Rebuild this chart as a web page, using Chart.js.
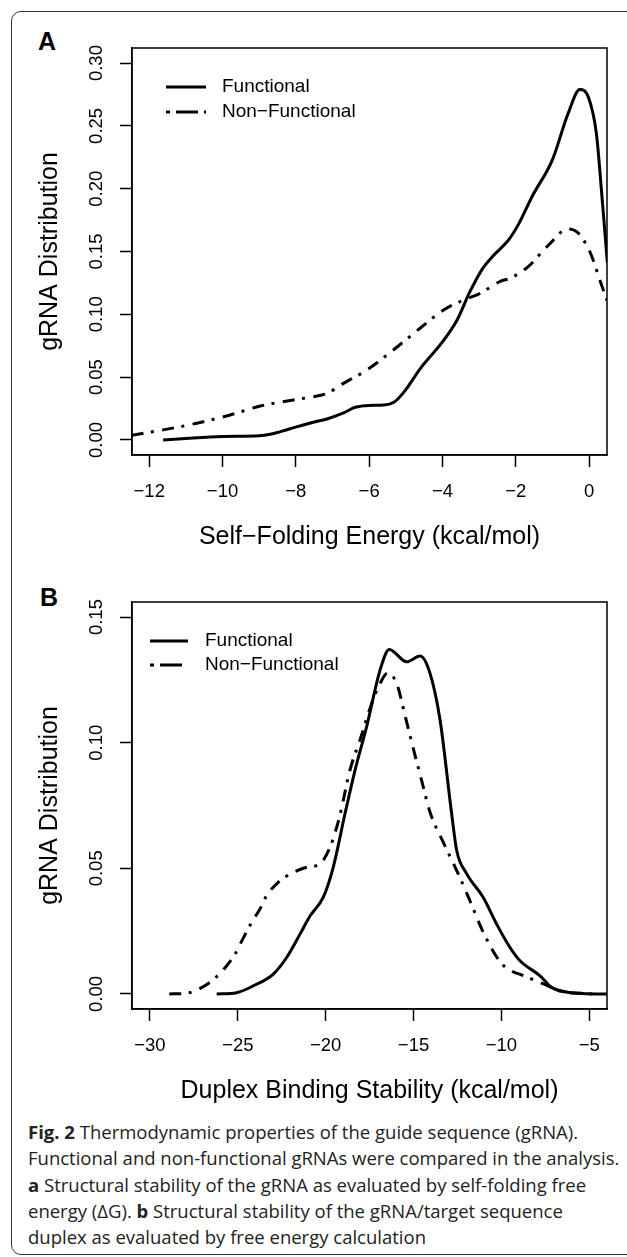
<!DOCTYPE html>
<html>
<head>
    <script src="https://cdn.jsdelivr.net/npm/chart.js@4"></script>
    <style>
        body { margin: 0; background: #fff; width: 627px; height: 1257px; position: relative; overflow: hidden; }
        .frame { position: absolute; left: 11px; top: 11px; width: 650px; height: 1242px; border: 1.5px solid #333; border-radius: 10px; }
        canvas { position: absolute; left: 0; }
        .panel { position: absolute; font: bold 25px "Liberation Sans", Arial, sans-serif; line-height: 25px; }
        .caption { position: absolute; left: 28px; top: 1119px; font: 18.5px "Open Sans", sans-serif; line-height: 26.3px; color: #222; white-space: nowrap; }
    </style>
</head>
<body>
 <div class="frame"></div>
 <div class="panel" style="left:38px;top:29px">A</div>
 <canvas id="chartA" width="627" height="554" style="top:0"></canvas>
 <div class="panel" style="left:40px;top:585px">B</div>
 <canvas id="chartB" width="627" height="554" style="top:554px"></canvas>
 <div class="caption">
  <b>Fig. 2</b> Thermodynamic properties of the guide sequence (gRNA).<br>
  Functional and non-functional gRNAs were compared in the analysis.<br>
  <b>a</b> Structural stability of the gRNA as evaluated by self-folding free<br>
  energy (ΔG). <b>b</b> Structural stability of the gRNA/target sequence<br>
  duplex as evaluated by free energy calculation
 </div>
  <script>
    // panel A: self-folding energy
    const aFuncX = [-11.62, -11.0, -10.0, -9.0, -8.7, -8.2, -7.6, -7.15, -6.7, -6.38, -6.0, -5.6, -5.3, -5.0, -4.6, -4.0, -3.6, -3.25, -2.9, -2.6, -2.2, -1.9, -1.55, -1.0, -0.57, -0.25, -0.02, 0.2, 0.36, 0.5];
    const aFuncY = [0.0, 0.0012, 0.0027, 0.0033, 0.0045, 0.0085, 0.0135, 0.0167, 0.0215, 0.026, 0.0275, 0.0278, 0.0305, 0.040, 0.057, 0.078, 0.0955, 0.118, 0.1366, 0.147, 0.159, 0.173, 0.194, 0.223, 0.26, 0.279, 0.273, 0.244, 0.191, 0.141];
    const aNonX = [-12.48, -11.62, -10.7, -9.79, -8.97, -8.07, -7.61, -7.15, -6.7, -6.06, -5.34, -4.61, -3.97, -3.42, -2.97, -2.42, -2.15, -1.66, -1.11, -0.57, -0.29, 0.04, 0.31, 0.49];
    const aNonY = [0.0037, 0.008, 0.0133, 0.0199, 0.027, 0.0318, 0.034, 0.037, 0.045, 0.0557, 0.0716, 0.0889, 0.1034, 0.1114, 0.1167, 0.1263, 0.1287, 0.138, 0.155, 0.168, 0.1645, 0.1486, 0.126, 0.111];

    // panel B: duplex binding stability
    const bFuncX = [-26.2, -25.07, -24.12, -22.98, -22.22, -21.46, -20.89, -20.14, -19.57, -18.9, -18.33, -17.67, -16.9, -16.38, -15.39, -14.63, -14.06, -13.49, -12.83, -12.54, -11.97, -11.03, -10.27, -9.51, -8.94, -7.8, -7.12, -5.98, -4.05, -3.9];
    const bFuncY = [0, 0.0005, 0.0032, 0.0079, 0.0145, 0.0238, 0.031, 0.0384, 0.0504, 0.0717, 0.089, 0.1063, 0.129, 0.1371, 0.1322, 0.1345, 0.1276, 0.109, 0.0717, 0.057, 0.0478, 0.0384, 0.0278, 0.0185, 0.0132, 0.0072, 0.0025, 0.0005, 0, 0];
    const bNonX = [-28.9, -27.91, -27.06, -26.2, -25.63, -25.16, -24.69, -24.21, -23.74, -23.36, -22.7, -21.94, -21.08, -20.32, -19.75, -19.37, -19.19, -18.62, -18.05, -17.38, -16.9, -16.49, -15.96, -15.49, -15.01, -14.54, -14.06, -13.31, -12.54, -11.79, -11.03, -10.12, -9.62, -8.71, -7.57, -6.66, -4.84];
    const bNonY = [0, 0.0003, 0.0025, 0.0069, 0.0112, 0.0158, 0.0222, 0.0285, 0.0338, 0.0391, 0.0444, 0.048, 0.0504, 0.0518, 0.0584, 0.0664, 0.071, 0.089, 0.101, 0.1156, 0.1236, 0.1276, 0.1236, 0.111, 0.0976, 0.085, 0.0723, 0.0604, 0.0491, 0.0371, 0.0245, 0.0132, 0.0099, 0.0072, 0.0039, 0.0012, 0];

    const seriesNames = ['Functional', 'Non\u2212Functional'];
    const dotDash = [12, 7.5, 3, 8.5];

    Chart.defaults.font.family = '"Liberation Sans", Arial, sans-serif';
    Chart.defaults.color = '#000';

    const pts = (xs, ys) => xs.map((x, i) => ({x: x, y: ys[i]}));
    const minus = v => v < 0 ? '\u2212' + Math.abs(v) : String(v);

    // box around plot + legend drawn in plot corner
    const boxAndLegend = {
        id: 'boxAndLegend',
        afterDraw(chart, args, opts) {
            const ctx = chart.ctx, a = chart.chartArea;
            ctx.save();
            ctx.strokeStyle = '#000';
            ctx.lineWidth = 1.5;
            ctx.strokeRect(a.left, a.top, a.right - a.left, a.bottom - a.top);
            ctx.lineWidth = 3;
            ctx.font = '19px "Liberation Sans", Arial, sans-serif';
            ctx.fillStyle = '#000';
            ctx.textBaseline = 'middle';
            chart.data.datasets.forEach((ds, i) => {
                const y = opts.y + i * opts.rowGap;
                ctx.setLineDash(i === 0 ? [] : [4, 6, 22, 6]);
                ctx.beginPath();
                ctx.moveTo(opts.x, y);
                ctx.lineTo(opts.x + opts.len, y);
                ctx.stroke();
                ctx.fillText(ds.label, opts.textX, y);
            });
            ctx.restore();
        }
    };

    function makeChart(id, sets, xr, xStep, yr, xTitle, leg) {
        new Chart(document.getElementById(id), {
            type: 'line',
            data: {
                datasets: sets.map((d, i) => ({
                    label: seriesNames[i],
                    data: d,
                    borderColor: '#000',
                    borderWidth: 3,
                    borderDash: i === 0 ? [] : dotDash,
                    pointRadius: 0,
                    fill: false,
                    cubicInterpolationMode: 'monotone',
                    clip: 0
                }))
            },
            options: {
                responsive: false,
                animation: false,
                devicePixelRatio: 1,
                layout: { padding: { left: 0, right: 20, top: 48, bottom: 0 } },
                plugins: { legend: { display: false }, tooltip: { enabled: false }, boxAndLegend: leg },
                scales: {
                    x: {
                        type: 'linear', min: xr[0], max: xr[1],
                        afterFit(s) { s.height = 99; },
                        grid: { drawOnChartArea: false, tickLength: 12, tickColor: '#000', tickWidth: 1.5 },
                        border: { display: true, color: '#000', width: 1.5 },
                        ticks: { stepSize: xStep, includeBounds: false, padding: 14, maxRotation: 0, autoSkip: false,
                                 font: { size: 18.5 }, callback: v => minus(v) },
                        title: { display: true, text: xTitle, font: { size: 25 }, padding: { top: 0, bottom: 2 } }
                    },
                    y: {
                        type: 'linear', min: yr[0], max: yr[1],
                        afterFit(s) { s.width = 132; },
                        grid: { drawOnChartArea: false, tickLength: 12, tickColor: '#000', tickWidth: 1.5 },
                        border: { display: true, color: '#000', width: 1.5 },
                        ticks: { stepSize: 0.05, includeBounds: false, padding: 5, minRotation: 90, maxRotation: 90,
                                 crossAlign: 'center', autoSkip: false, font: { size: 18.5 }, callback: v => v.toFixed(2) },
                        title: { display: true, text: 'gRNA Distribution', font: { size: 25 }, padding: { top: 35, bottom: 0 } }
                    }
                }
            },
            plugins: [boxAndLegend]
        });
    }

    makeChart('chartA', [pts(aFuncX, aFuncY), pts(aNonX, aNonY)], [-12.47, 0.49], 2, [-0.012, 0.312],
        'Self\u2212Folding Energy (kcal/mol)', { x: 166, len: 40, textX: 222, y: 87, rowGap: 25 });
    makeChart('chartB', [pts(bFuncX, bFuncY), pts(bNonX, bNonY)], [-31.02, -3.99], 5, [-0.006, 0.156],
        'Duplex Binding Stability (kcal/mol)', { x: 150, len: 38, textX: 205, y: 87, rowGap: 24 });
  </script>
</body>
</html>
